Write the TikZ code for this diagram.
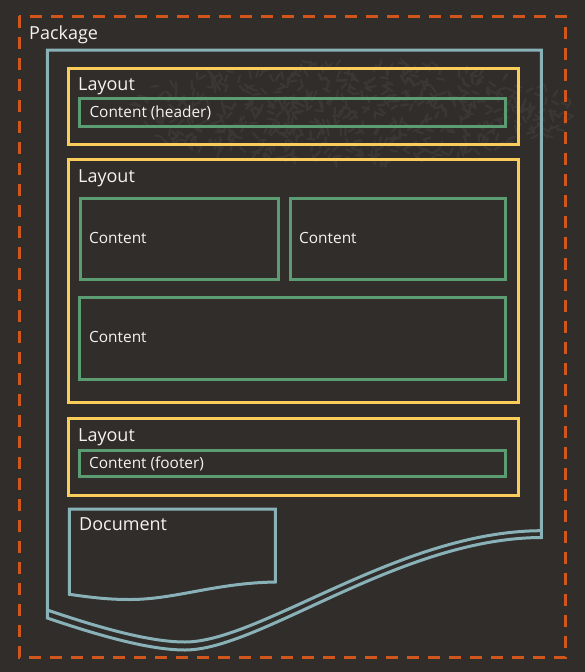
\documentclass[tikz,border=0pt]{standalone}
\usepackage{fontspec}
\setmainfont{Open Sans}
\definecolor{bg}{RGB}{49,45,42}
\definecolor{orng}{RGB}{208,86,28}
\definecolor{tealc}{RGB}{137,178,184}
\definecolor{ylw}{RGB}{250,204,90}
\definecolor{grn}{RGB}{92,156,114}
\definecolor{txt}{RGB}{245,243,240}
\definecolor{texc}{RGB}{59,55,52}
\begin{document}
\begin{tikzpicture}[x=1pt,y=-1pt,line join=miter,
 pkgbox/.style={draw=orng,line width=3pt,dash pattern=on 12pt off 9pt},
 docline/.style={draw=tealc,line width=3pt},
 layoutbox/.style={draw=ylw,line width=3pt},
 contentbox/.style={draw=grn,line width=3pt},
 biglabel/.style={text=txt,font=\fontsize{18}{20}\selectfont,anchor=base west,inner sep=0pt},
 smalllabel/.style={text=txt,font=\fontsize{15.4}{17}\selectfont,anchor=base west,inner sep=0pt}]
\fill[bg] (0,0) rectangle (585,672);
\useasboundingbox (0,0) rectangle (585,672);
% faint background texture
\pgfmathsetseed{7}
\foreach \i in {1,...,600}{
  \pgfmathsetmacro\rr{sqrt(rnd)}
  \pgfmathsetmacro\tt{rnd*360}
  \pgfmathsetmacro\px{350+225*\rr*cos(\tt)}
  \pgfmathsetmacro\py{112+52*\rr*sin(\tt)}
  \pgfmathsetmacro\aa{rnd*180}
  \pgfmathsetmacro\bb{\aa+180}
  \draw[texc,line width=2.2pt,line cap=round] (\px,\py) ++(\aa:3.5) -- ++(\bb:7);
}
% package
\draw[pkgbox] (19.3,16) rectangle (565.3,657.3);
% document outline
\draw[docline] (47.3,618) -- (47.3,50) -- (541.3,50) -- (541.3,537.5)
  .. controls (400,538) and (260,650) .. (185,650)
  .. controls (150,650) and (100,636) .. (47.3,618) -- cycle;
\draw[docline] (47.3,610) .. controls (100,628) and (150,642) .. (185,642)
  .. controls (260,642) and (400,531) .. (541.3,530.7);
% layouts
\draw[layoutbox] (68.7,68) rectangle (518.3,144.3);
\draw[layoutbox] (68.7,159.3) rectangle (518.3,402.3);
\draw[layoutbox] (68.7,418.7) rectangle (518.3,495);
% contents
\draw[contentbox] (79.3,98.7) rectangle (505.5,126.7);
\draw[contentbox] (80,198.7) rectangle (278.7,279.5);
\draw[contentbox] (290,198.7) rectangle (505.5,279.5);
\draw[contentbox] (79.3,297.3) rectangle (505.5,379.3);
\draw[contentbox] (79.3,450) rectangle (505.5,476.7);
% small document
\draw[docline] (69.3,594.3) -- (69.3,509) -- (275.3,509) -- (275.3,582)
  .. controls (215,583) and (175,599.5) .. (130,599.5)
  .. controls (110,599.5) and (95,598) .. (69.3,594.3) -- cycle;
% labels
\node[biglabel] (pkg) at (29,39.3) {Package};
\node[biglabel] (lay1) at (78,90) {Layout};
\node[smalllabel] (c1) at (89.3,117.3) {Content (header)};
\node[biglabel] (lay2) at (78,182) {Layout};
\node[smalllabel] (c2) at (89,243) {Content};
\node[smalllabel] (c3) at (299,243) {Content};
\node[smalllabel] (c4) at (89,342.3) {Content};
\node[biglabel] (lay3) at (78,441) {Layout};
\node[smalllabel] (c5) at (89,468.3) {Content (footer)};
\node[biglabel] (doc) at (79,530) {Document};
\end{tikzpicture}
\end{document}
